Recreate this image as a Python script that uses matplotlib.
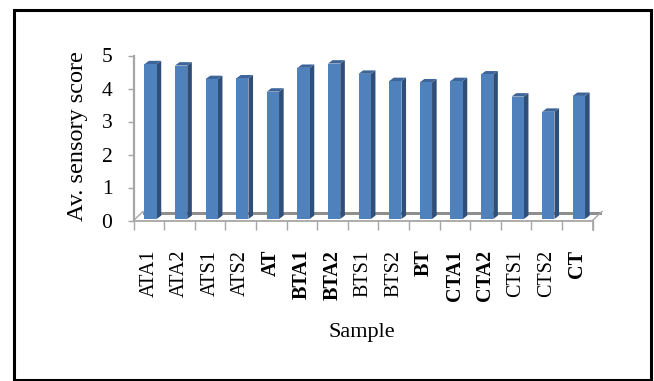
import matplotlib
matplotlib.use("Agg")
import matplotlib.pyplot as plt
from matplotlib.patches import Polygon, Rectangle
from matplotlib.lines import Line2D

# Average sensory score per sample
samples = ["ATA1", "ATA2", "ATS1", "ATS2", "AT", "BTA1", "BTA2", "BTS1",
           "BTS2", "BT", "CTA1", "CTA2", "CTS1", "CTS2", "CT"]
scores = [4.69, 4.65, 4.24, 4.26, 3.86, 4.58, 4.71, 4.40,
          4.18, 4.14, 4.18, 4.38, 3.71, 3.25, 3.73]
bold_labels = {"AT", "BTA1", "BTA2", "BT", "CTA1", "CTA2", "CT"}
y_ticks = [0, 1, 2, 3, 4, 5]

W, H = 654, 381
fig = plt.figure(figsize=(W / 100, H / 100), dpi=100)
plt.rcParams["font.family"] = ["Liberation Serif", "DejaVu Serif"]

# front plane of the pseudo-3D chart, in pixels
x0_px, x1_px = 133.5, 592.5
y0_px, y5_px = 220.5, 55.5
ax = fig.add_axes([x0_px / W, 1 - y0_px / H, (x1_px - x0_px) / W, (y0_px - y5_px) / H])
n = len(samples)
ax.set_xlim(0, n)
ax.set_ylim(0, 5)
for s in ax.spines.values():
    s.set_visible(False)

px_x = n / (x1_px - x0_px)      # data units per pixel, horizontal
px_y = 5 / (y0_px - y5_px)      # data units per pixel, vertical

# depth of the floor and of each column (oblique projection)
floor_dx, floor_dy = 9.5 * px_x, 9.0 * px_y
front_dx, front_dy = 1.7 * px_x, 1.5 * px_y
bar_dx, bar_dy = 4.6 * px_x, 3.4 * px_y
bar_w = 12.3 * px_x

front_c = "#4F81BD"
side_c = "#2F4E78"
top_c = "#3D6599"
grid_c = "#A6A6A6"
floor_c = "#8E8E8E"

# floor: back edge band and side edges
band_top = floor_dy
band_bot = floor_dy - 3.0 * px_y
ax.add_patch(Polygon([(floor_dx, band_bot), (n + floor_dx, band_bot),
                      (n + floor_dx, band_top), (floor_dx, band_top)],
                     closed=True, facecolor=floor_c, edgecolor="none",
                     zorder=1, clip_on=False))
for xe in (0, n):
    ax.add_line(Line2D([xe, xe + floor_dx], [0, floor_dy], color=grid_c,
                       lw=1.0, zorder=1, clip_on=False))
ax.add_line(Line2D([n, n], [0, -9.5 * px_y], color=grid_c, lw=1.2,
                   zorder=1, clip_on=False))

# axis lines
ax.add_line(Line2D([0, n], [0, 0], color=grid_c, lw=1.3, zorder=2, clip_on=False))
ax.add_line(Line2D([0, 0], [0, 5], color=grid_c, lw=1.6, zorder=2, clip_on=False))

# columns: front face via bar, side and top faces from the same values
centers = [i + 0.5 + front_dx for i in range(n)]
base = front_dy
ax.bar(centers, scores, width=bar_w, bottom=base, color=front_c,
       edgecolor="none", zorder=4, clip_on=False)
for c, v in zip(centers, scores):
    xl, xr = c - bar_w / 2, c + bar_w / 2
    yt = base + v
    ax.add_patch(Polygon([(xr, base), (xr + bar_dx, base + bar_dy),
                          (xr + bar_dx, yt + bar_dy), (xr, yt)],
                         closed=True, facecolor=side_c, edgecolor="none",
                         zorder=3, clip_on=False))
    ax.add_patch(Polygon([(xl, yt), (xr, yt), (xr + bar_dx, yt + bar_dy),
                          (xl + bar_dx, yt + bar_dy)],
                         closed=True, facecolor=top_c, edgecolor="none",
                         zorder=3, clip_on=False))

# ticks and labels
ax.set_xticks(range(n + 1))
ax.set_xticklabels([])
ax.tick_params(axis="x", which="major", direction="out", length=6.8,
               width=1.0, color=grid_c)
ax.set_xticks([i + 0.5 for i in range(n)], minor=True)
ax.set_xticklabels(samples, minor=True, rotation=90, fontsize=14.5)
ax.tick_params(axis="x", which="minor", length=0, pad=21)
for lab in ax.get_xticklabels(minor=True):
    if lab.get_text() in bold_labels:
        lab.set_fontweight("bold")

ax.set_yticks(y_ticks)
ax.set_yticklabels([str(t) for t in y_ticks], fontsize=15.5)
ax.tick_params(axis="y", direction="out", length=4.2, width=1.0,
               color=grid_c, pad=11)

fig.text(77 / W, 1 - 136 / H, "Av. sensory score", rotation=90,
         ha="center", va="center", fontsize=17.5)
fig.text(362 / W, 1 - 333 / H, "Sample", ha="center", va="center",
         fontsize=16)

# outer frame
fig.patches.append(Rectangle((13.5 / W, 1 - 379.5 / H), (650.5 - 13.5) / W,
                             (379.5 - 9.5) / H, transform=fig.transFigure,
                             fill=False, edgecolor="black", lw=2.2))

fig.savefig("out.png", dpi=100)
